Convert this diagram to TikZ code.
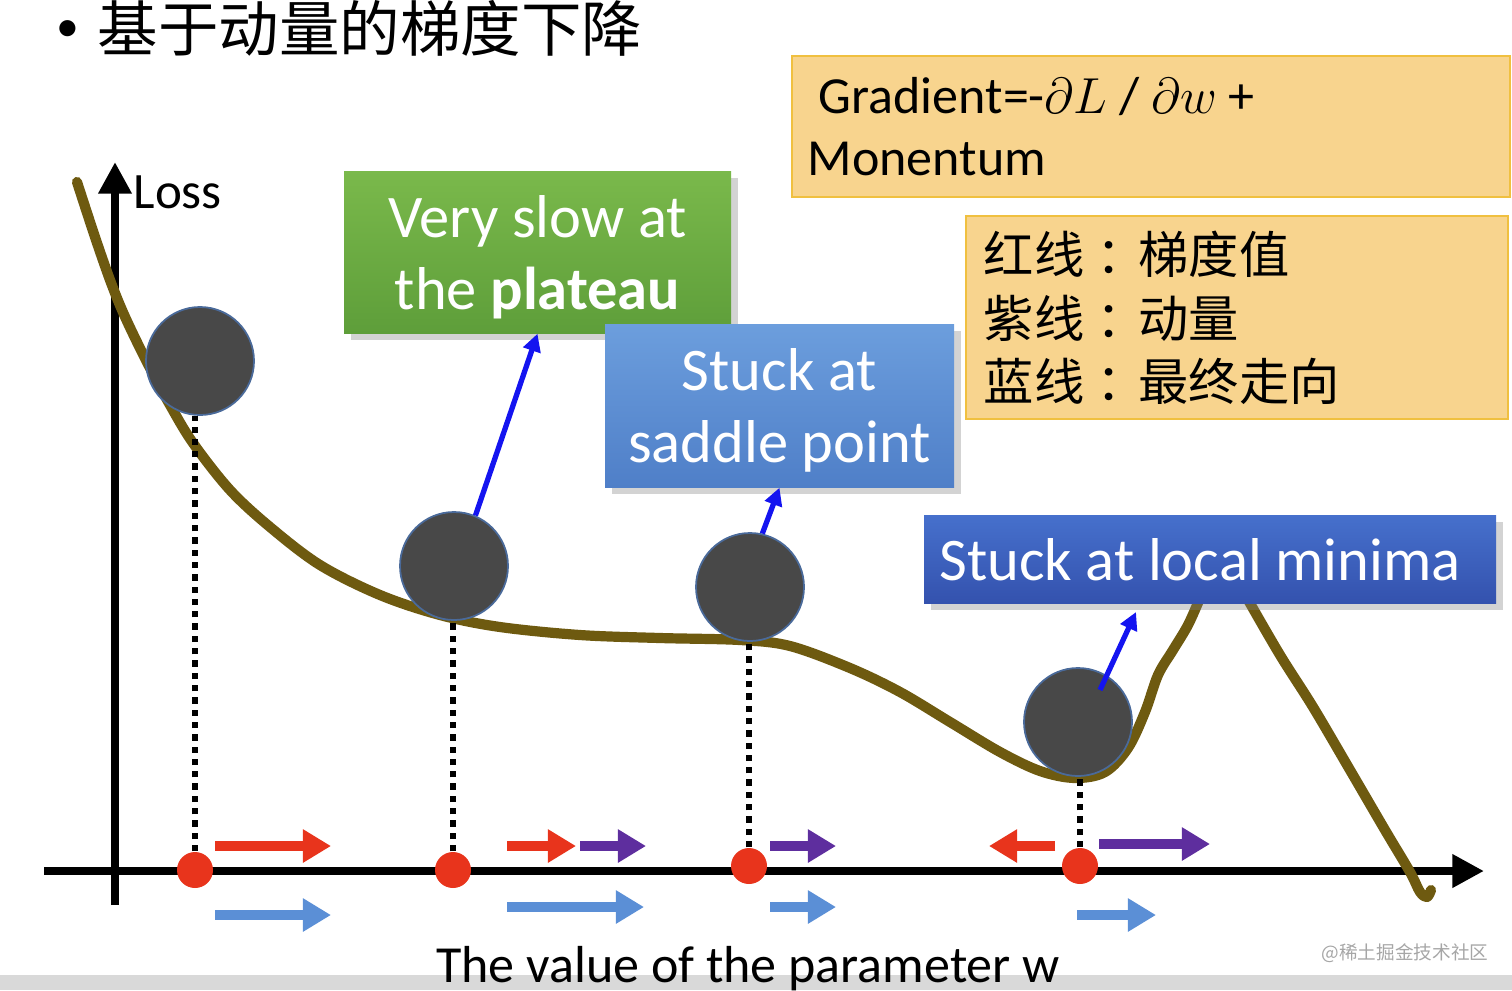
\documentclass[tikz,border=0pt]{standalone}
\usepackage{fontspec}
\setmainfont{Carlito}
\newfontfamily\cjk{Noto Sans CJK SC}
\usetikzlibrary{arrows.meta,shadows,calc}
\definecolor{curvec}{HTML}{6E5A10}
\definecolor{ballc}{HTML}{484848}
\definecolor{ballb}{HTML}{4A6A9A}
\definecolor{redc}{HTML}{E8341C}
\definecolor{purc}{HTML}{5E2E9E}
\definecolor{lbluec}{HTML}{5B8FD6}
\definecolor{tbluec}{HTML}{1414F0}
\definecolor{orfill}{HTML}{F8D48E}
\definecolor{ordraw}{HTML}{F0C040}
\definecolor{greent}{HTML}{7AB94B}
\definecolor{greenb}{HTML}{5E9E3A}
\definecolor{bluet}{HTML}{6C9EDD}
\definecolor{blueb}{HTML}{4F7FC8}
\definecolor{dbluet}{HTML}{4670CC}
\definecolor{dblueb}{HTML}{3452AE}
\definecolor{stripc}{HTML}{D9D9D9}
\newlength{\pxu}
\setlength{\pxu}{0.01cm}
\tikzset{
  ball/.style={circle,fill=ballc,draw=ballb,line width=0.5pt,minimum size=108\pxu,inner sep=0pt},
  rdot/.style={circle,fill=redc,minimum size=36\pxu,inner sep=0pt},
  dotline/.style={line width=1.8pt,dash pattern=on 1.8pt off 1.7pt},
  axis/.style={line width=2.3pt,-{Triangle[length=9pt,width=9pt]}},
  blockarrow/.style={line width=3pt,-{Triangle[length=8pt,width=9pt]}},
  thinarrow/.style={line width=1.5pt,tbluec,-{Triangle[length=5pt,width=5pt]}},
  orbox/.style={fill=orfill,draw=ordraw,line width=0.8pt,inner sep=0pt},
  shbox/.style={drop shadow={opacity=0.35,shadow xshift=2pt,shadow yshift=-2pt},inner sep=0pt},
  boxtext/.style={text=white,inner sep=0pt,align=center,font=\fontsize{17.2}{20.5}\selectfont},
  curve/.style={curvec,line width=2.9pt,line cap=round,line join=round},
  legtext/.style={anchor=west,inner sep=0pt,font=\cjk\fontsize{14.3}{17}\selectfont},
}
\newcommand{\lcolon}{\hspace{3.4pt}：\hspace{-2.3pt}}
\begin{document}
\begin{tikzpicture}[x=0.01cm,y=-0.01cm]
\useasboundingbox (0,0) rectangle (1512,990);
% bottom strip
\fill[stripc] (0,975) rectangle (1512,990);
% title
\node[font=\fontsize{13}{15}\selectfont,inner sep=0pt] (bullet) at (68,31) {•};
\node[anchor=west,font=\cjk\fontsize{17.2}{20}\selectfont,inner sep=0pt] (title) at (97,28) {基于动量的梯度下降};
% axes
\coordinate (yb) at (115,905);
\coordinate (yt) at (115,162);
\coordinate (xl) at (44,871);
\coordinate (xr) at (1484,871);
\draw[axis] (yb) -- (yt);
\draw[axis] (xl) -- (xr);
\node[anchor=west,inner sep=0pt,font=\fontsize{14.5}{16}\selectfont] (loss) at (133,192) {Loss};
% curve
\draw[curve] plot[smooth,tension=0.55] coordinates {
 (77,182) (95,237) (110,280) (122,310) (135,338) (150,368) (170,405) (193,443) (230,490) (270,527)
 (320,565) (380,595) (440,615) (500,627) (580,635) (660,638) (740,640) (790,646)
 (850,668) (900,692) (950,722) (1000,752) (1040,771) (1075,778) (1105,772) (1128,748)
 (1145,712) (1158,675) (1173,650) (1188,625) (1200,598)};
\draw[curve] plot[smooth,tension=0.55] coordinates {
 (1247,598) (1280,655) (1313,707) (1350,770) (1385,830) (1410,872) (1420,892) (1427,897) (1431,890)};
% balls
\node[ball] (b1) at (200,361) {};
\node[ball] (b2) at (454,566) {};
\node[ball] (b3) at (750,587) {};
\node[ball] (b4) at (1078,722) {};
% red dots
\node[rdot] (d1) at (195,870) {};
\node[rdot] (d2) at (453,870) {};
\node[rdot] (d3) at (749,866) {};
\node[rdot] (d4) at (1080,866) {};
% dotted lines
\draw[dotline] (d1.north) -- (d1.north |- b1.south);
\draw[dotline] (d2.north) -- (d2.north |- b2.south);
\draw[dotline] (d3.north) -- (d3.north |- b3.south);
\draw[dotline] (d4.north) -- (d4.north |- b4.south);
% boxes
\node[orbox,minimum width=718\pxu,minimum height=141\pxu] (grad) at (1151,126.5) {};
\node[anchor=base west,inner sep=0pt,font=\fontsize{14.8}{17}\selectfont] (gradt) at (818,113) {Gradient=-$\partial L$ / $\partial w$ +};
\node[anchor=base west,inner sep=0pt,font=\fontsize{14.8}{17}\selectfont] (gradm) at (807,175) {Monentum};
\node[orbox,minimum width=542\pxu,minimum height=203\pxu] (leg) at (1237,317.5) {};
\node[legtext] (l1) at (983,254) {红线\lcolon 梯度值};
\node[legtext] (l2) at (983,318) {紫线\lcolon 动量};
\node[legtext] (l3) at (983,381) {蓝线\lcolon 最终走向};
\node[shbox,top color=greent,bottom color=greenb,minimum width=387\pxu,minimum height=162\pxu] (green) at (537.5,252) {};
\node[boxtext] (greentx) at (537.5,257) {Very slow at\\the \textbf{plateau}};
\node[shbox,top color=bluet,bottom color=blueb,minimum width=349\pxu,minimum height=163\pxu] (saddle) at (779.5,405.5) {};
\node[boxtext] (saddletx) at (779.5,410) {Stuck at\\saddle point};
\node[shbox,top color=dbluet,bottom color=dblueb,minimum width=572\pxu,minimum height=88\pxu] (minima) at (1210,559) {};
\node[boxtext] (minimatx) at (1200,560) {Stuck at local minima};
% thin blue arrows
\draw[thinarrow] (b2.67) -- (green.south);
\draw[thinarrow] (b3.77) -- (saddle.south);
\coordinate (a4s) at (1100,690);
\coordinate (a4e) at (1136,612);
\draw[thinarrow] (a4s) -- (a4e);
% block arrows
\draw[blockarrow,redc] (215,846) -- (331,846);
\draw[blockarrow,lbluec] (215,915) -- (331,915);
\draw[blockarrow,redc] (507,846) -- (576,846);
\draw[blockarrow,purc] (580,846) -- (646,846);
\draw[blockarrow,lbluec] (507,907) -- (644,907);
\draw[blockarrow,purc] (770,846) -- (836,846);
\draw[blockarrow,lbluec] (770,907) -- (836,907);
\draw[blockarrow,redc] (1055,846) -- (989,846);
\draw[blockarrow,purc] (1099,844) -- (1210,844);
\draw[blockarrow,lbluec] (1077,915) -- (1156,915);
% bottom label
\node[anchor=base,inner sep=0pt,font=\fontsize{14.8}{17}\selectfont] (xlab) at (748,982) {The value of the parameter w};
\node[font=\cjk\fontsize{5.3}{6}\selectfont,text=gray!70] (wm) at (1405,953) {@稀土掘金技术社区};
\end{tikzpicture}
\end{document}
